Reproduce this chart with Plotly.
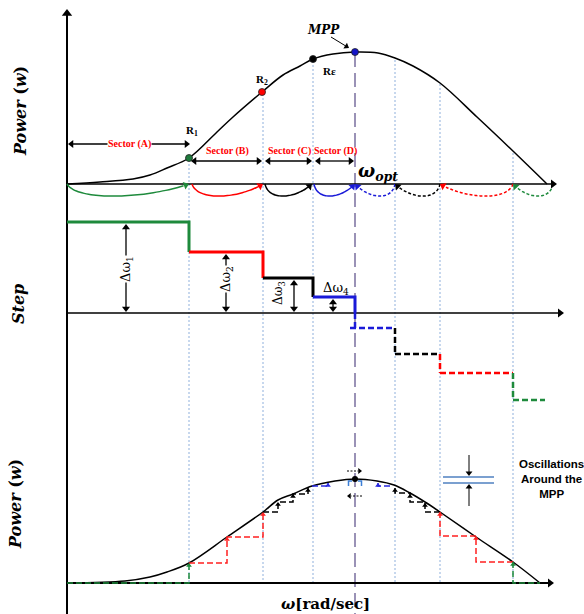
import math
import plotly.graph_objects as go

# ---------------- data (chart units: ω along x, picture-scale power / step along y) ----------------
sector_w = [67, 189, 263, 313, 355, 395, 440, 513, 553]      # sector boundaries on the ω axis
sector_names = ["Sector (A)", "Sector (B)", "Sector (C)", "Sector (D)"]

# upper P-ω curve
top_w = [67, 100, 133, 150, 167, 189, 217, 233, 262, 283, 300, 313, 333, 355, 378, 395, 413, 440, 477, 514, 547]
top_p = [184, 182, 179, 175, 168, 158, 132, 117, 92, 75, 66, 59, 54, 52, 53, 58, 66, 83, 117, 152, 184]

# lower P-ω curve
bot_w = [67, 125, 150, 167, 189, 227, 263, 278, 293, 312, 335, 355, 377, 394, 410, 425, 440, 476, 513, 540]
bot_p = [583, 581, 577, 572, 563, 537, 512, 500, 494, 486, 481, 479, 481, 485, 493, 502, 512, 537, 562, 583]

# operating points
point_names = ["<b>R<sub>1</sub></b>", "<b>R<sub>2</sub></b>", "<b>Rε</b>", "<b><i>MPP</i></b>"]
point_w = [189, 262, 313, 355]
point_p = [158, 92, 59, 52]
point_colors = ["#1e7b3c", "#ff0000", "#000000", "#1414c8"]

# step panel levels
pos_levels = [222, 252, 278, 297, 313]
neg_levels = [328, 354, 373, 400]
neg_end = [395, 440, 513, 545]
delta_labels = ["Δω<sub>1</sub>", "Δω<sub>2</sub>", "Δω<sub>3</sub>", "Δω<sub>4</sub>"]
delta_w = [126, 226, 294, 333]

# dotted guide lines
guide_w = [189, 263, 313, 395, 440, 513]
guide_top = [160, 94, 61, 60, 84, 153]

# lower staircase (hill climbing path), per colour
stairs = [
    ("#1e8a3c", [67, 189, 189], [583, 583, 563], [(189, 563)]),
    ("#ff2020", [189, 227, 227, 263, 263], [563, 563, 537, 537, 512], [(227, 537), (263, 512)]),
    ("#000000", [263, 278, 278, 293, 293, 308, 308], [512, 512, 502, 502, 494, 494, 488],
     [(278, 502), (293, 494), (308, 488)]),
    ("#2a2ae0", [312, 328, 328], [486, 486, 483], [(328, 483)]),
    ("#2a2ae0", [378, 378, 392], [483, 486, 486], [(378, 483)]),
    ("#000000", [395, 395, 410, 410, 425, 425, 440], [488, 493, 493, 502, 502, 512, 512],
     [(395, 488), (410, 494), (425, 503)]),
    ("#ff2020", [440, 440, 476, 476, 513], [512, 536, 536, 562, 562], [(440, 512), (476, 536)]),
    ("#1e8a3c", [513, 513, 540], [562, 583, 583], [(513, 562)]),
]

GREEN, RED, BLACK, BLUE = "#1e8a3c", "#ff0000", "#000000", "#1a1ad8"
arc_specs = [  # tail, head, colour, dash
    (67, 189, GREEN, "solid"), (192, 263, RED, "solid"), (265, 312, BLACK, "solid"), (314, 355, BLUE, "solid"),
    (395, 355, BLUE, "3px,2px"), (440, 395, BLACK, "3px,2px"), (513, 440, RED, "3px,2px"), (553, 513, GREEN, "3px,2px"),
]

fig = go.Figure()
head_store = {}


def line(xs, ys, color="black", w=1.5, dash="solid", shape="linear"):
    fig.add_trace(go.Scatter(x=xs, y=ys, mode="lines", hoverinfo="skip",
                             line=dict(color=color, width=w, dash=dash, shape=shape)))


def head(tx, ty, dx, dy, color, size=7):
    """arrowhead with its tip at (tx, ty) pointing along (dx, dy) (screen direction)"""
    n = math.hypot(dx, dy)
    ux, uy = dx / n, dy / n
    cx, cy = tx - ux * size * 0.5, ty - uy * size * 0.5
    head_store.setdefault((color, size), []).append((cx, cy, math.degrees(math.atan2(ux, -uy))))


def arrow(x0, y0, x1, y1, color="black", w=1.3, both=False, size=7):
    n = math.hypot(x1 - x0, y1 - y0)
    ux, uy = (x1 - x0) / n, (y1 - y0) / n
    back = size * 0.6
    sx, sy = (x0 + ux * back, y0 + uy * back) if both else (x0, y0)
    line([sx, x1 - ux * back], [sy, y1 - uy * back], color=color, w=w)
    head(x1, y1, ux, uy, color, size)
    if both:
        head(x0, y0, -ux, -uy, color, size)


def text(x, y, s, size=10, color="black", family="Liberation Serif", angle=0, bg=None, xanchor="center"):
    fig.add_annotation(x=x, y=y, xref="x", yref="y", text=s, showarrow=False, textangle=angle,
                       font=dict(size=size, color=color, family=family), xanchor=xanchor, yanchor="middle",
                       bgcolor=bg, borderpad=0)


# ---- guide lines ----
for gx, gt in zip(guide_w, guide_top):
    line([gx, gx], [gt, 583], color="#8fb0dc", w=1, dash="2px,2px")
line([sector_w[4], sector_w[4]], [53, 614], color="#7a6f9e", w=1.5, dash="14px,6px")

# ---- axes ----
arrow(67, 614, 67, 9, w=2, size=9)
arrow(67, 184, 557, 184, w=1.5, size=8)
arrow(67, 313, 564, 313, w=1.5, size=8)
arrow(67, 583, 554, 583, w=2, size=8)

# ---- upper panel ----
line(top_w, top_p, w=1.5, shape="spline")
for tail, hd, col, dash in arc_specs:
    L = hd - tail
    d = 11.5
    P = [(tail, 184), (tail + 0.08 * L, 184 + 1.5 * d), (tail + 0.65 * L, 184 + 1.3 * d), (hd, 184)]
    xs, ys = [], []
    for i in range(25):
        t = i / 24
        b = [(1 - t) ** 3, 3 * (1 - t) ** 2 * t, 3 * (1 - t) * t ** 2, t ** 3]
        xs.append(sum(bb * p[0] for bb, p in zip(b, P)))
        ys.append(sum(bb * p[1] for bb, p in zip(b, P)))
    line(xs[:-1], ys[:-1], color=col, w=1.5, dash=dash, shape="spline")
    head(hd, 184, P[3][0] - P[2][0], P[3][1] - P[2][1], col, size=7)

fig.add_trace(go.Scatter(x=point_w, y=point_p, mode="markers", hoverinfo="skip",
                         marker=dict(size=7, color=point_colors, line=dict(color="#222222", width=0.8))))
text(192, 131, point_names[0], size=11)
text(262, 80, point_names[1], size=11)
text(329, 71, point_names[2], size=11)
text(323, 30, point_names[3], size=12, family="DejaVu Serif")
arrow(331, 37, 349, 48, w=1, size=6)

# sector arrows
arrow(68, 144, 190, 144, both=True)
text(129, 144, "<b>" + sector_names[0] + "</b>", size=10, color="#ff0000", bg="white")
for i, nm in enumerate(sector_names[1:], start=1):
    a, b = sector_w[i], sector_w[i + 1]
    arrow(a + 2, 161, b - 1, 161, both=True)
    text((a + b) / 2 + 1, 151, "<b>" + nm + "</b>", size=10, color="#ff0000")
text(378, 172, "<b><i>ω<sub>opt</sub></i></b>", size=18, family="DejaVu Serif")

# ---- step panel ----
step_cols = [GREEN, RED, BLACK, BLUE]
for i, col in enumerate(step_cols):
    a, b = sector_w[i], sector_w[i + 1]
    line([a, b, b], [pos_levels[i], pos_levels[i], pos_levels[i + 1]], color=col, w=3)
neg_cols = [BLUE, BLACK, RED, GREEN]
for j, col in enumerate(neg_cols):
    x0 = sector_w[4 + j]
    prev = pos_levels[-1] if j == 0 else neg_levels[j - 1]
    line([x0, x0], [prev, neg_levels[j]], color=col, w=2.5, dash="6px,3px")
    line([x0 - 5 if j == 0 else x0, neg_end[j]], [neg_levels[j], neg_levels[j]], color=col, w=2.5, dash="6px,3px")

for i, xw in enumerate(delta_w):
    arrow(xw, pos_levels[i] + 2, xw, 312, both=True, w=1.3, size=7)
text(126, 269, delta_labels[0], size=13, angle=-90, bg="white", family="DejaVu Serif")
text(226, 279, delta_labels[1], size=13, angle=-90, bg="white", family="DejaVu Serif")
text(279, 293, delta_labels[2], size=12, angle=-90, family="DejaVu Serif")
text(336, 288, delta_labels[3], size=13, family="DejaVu Serif")

# ---- lower panel ----
line(bot_w, bot_p, w=1.5, shape="spline")
for col, xs, ys, hd in stairs:
    line(xs, ys, color=col, w=1.5, dash="6px,3px")
    for h in hd:
        head(h[0], h[1], 0, -1, col, size=5)
fig.add_trace(go.Scatter(x=[355], y=[479], mode="markers", hoverinfo="skip",
                         marker=dict(size=6, color="black")))
# oscillation markers around the peak
line([347, 358], [471, 471], w=1, dash="2px,1.5px")
head(362, 471, 1, 0, "black", size=5)
line([362, 351], [496, 496], w=1, dash="2px,1.5px")
head(347, 496, -1, 0, "black", size=5)
line([352, 348.5, 348.5], [481, 481, 486], color="#3d7fd6", w=1.5)
line([358, 361.5, 361.5], [481, 481, 486], color="#3d7fd6", w=1.5)

line([443, 494], [477, 477], color="#4f81c0", w=1.5)
line([443, 494], [483, 483], color="#4f81c0", w=1.5)
arrow(469, 455, 469, 476, w=1, size=6)
arrow(469, 506, 469, 484, w=1, size=6)
text(551, 479, "<b>Oscillations<br>Around the<br>MPP</b>", size=11.5, family="Liberation Sans")

# ---- axis titles ----
text(20, 111, "<b><i>Power</i> (<i>w</i>)</b>", size=16, angle=-90, family="DejaVu Serif")
text(18, 304, "<b><i>Step</i></b>", size=16, angle=-90, family="DejaVu Serif")
text(15, 504, "<b><i>Power</i> (<i>w</i>)</b>", size=16, angle=-90, family="DejaVu Serif")
text(325, 604, "<b><i>ω</i>[rad/sec]</b>", size=15, family="DejaVu Serif")

# arrowheads
for (col, size), pts in head_store.items():
    fig.add_trace(go.Scatter(x=[p[0] for p in pts], y=[p[1] for p in pts], mode="markers", hoverinfo="skip",
                             marker=dict(symbol="triangle-up", size=size, color=col,
                                         angle=[p[2] for p in pts], line=dict(width=0))))

fig.update_layout(
    width=584, height=614, margin=dict(l=0, r=0, t=0, b=0),
    paper_bgcolor="white", plot_bgcolor="white", showlegend=False,
    xaxis=dict(range=[0, 584], visible=False, fixedrange=True),
    yaxis=dict(range=[614, 0], visible=False, fixedrange=True),
)
fig.write_html("out.html", config={"displayModeBar": False},
               post_script="document.body.style.margin='0';document.body.style.overflow='hidden';")
